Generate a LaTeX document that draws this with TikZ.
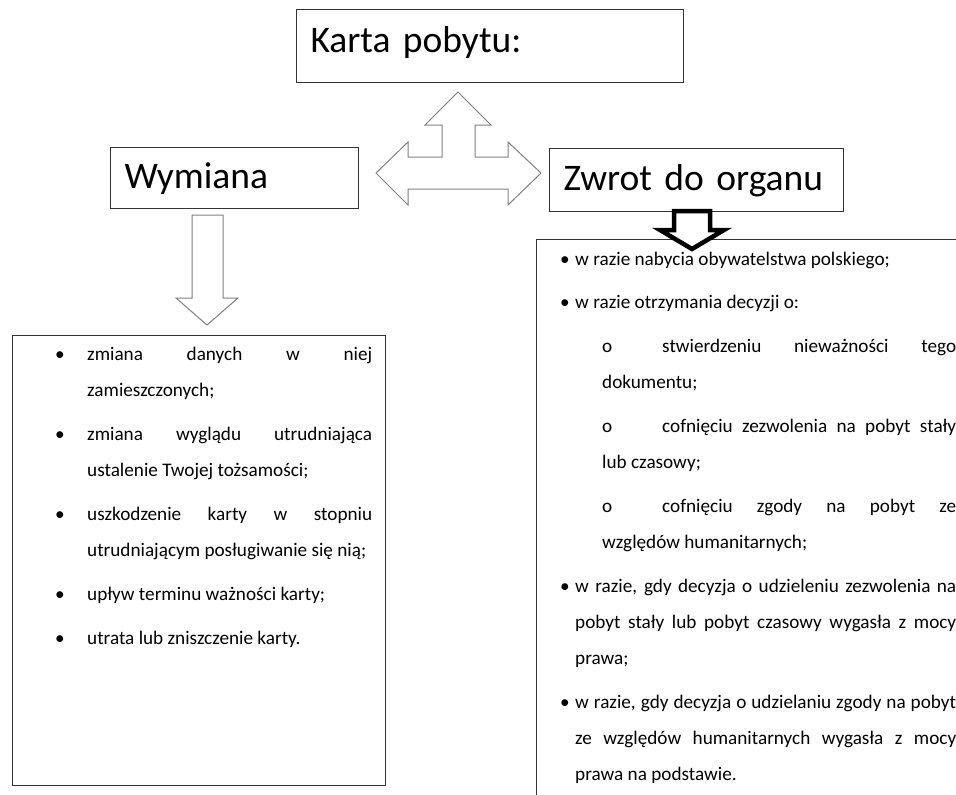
\documentclass[tikz,border=0pt]{standalone}
\usepackage{fontspec}
\setmainfont{Carlito}
\hyphenpenalty=10000
\exhyphenpenalty=10000
\tolerance=10000
\newcommand\lbul[1]{\hangindent=32pt \hangafter=1 \leavevmode\makebox[32pt][l]{\textbullet}#1\par}
\newcommand\rbul[1]{\hangindent=15pt \hangafter=1 \leavevmode\makebox[15pt][l]{\textbullet}#1\par}
\newcommand\subo{\makebox[60pt][l]{o}}
\tikzset{
  headbox/.style={draw=black!80, line width=1pt, anchor=north west, inner sep=0pt,
    inner xsep=14pt, align=left, text height=26pt, text depth=13pt,
    font=\fontsize{37.5}{40}\selectfont},
  listbox/.style={draw=black!80, line width=1pt, anchor=north west, inner sep=0pt},
  item/.style={anchor=base west, inner sep=0pt, align=justify,
    font=\fontsize{19.2}{36}\selectfont},
  blockarrow/.style={draw=gray, line width=1pt, fill=white, line join=miter},
}
\begin{document}
\begin{tikzpicture}[x=1pt,y=-1pt]
  \clip (0,0) rectangle (956,795);
  % headers
  \node[headbox, text width=359pt, minimum height=73pt] (karta) at (296,9) {Karta pobytu:};
  \node[headbox, text width=220pt, minimum height=61pt, text depth=6pt] (wymiana) at (110,147) {Wymiana};
  \node[headbox, text width=266pt, minimum height=63pt, text depth=6pt] (zwrot) at (549,148) {Zwrot do organu};
  % three-way arrow
  \draw[blockarrow] (458,92) -- (491,125) -- (475,125) -- (475,157) -- (508,157)
    -- (508,142) -- (541,173) -- (508,205) -- (508,189) -- (408,189) -- (408,205)
    -- (376,173) -- (408,142) -- (408,157) -- (442,157) -- (442,125) -- (425,125) -- cycle;
  \draw[blockarrow] (192,215) -- (223,215) -- (223,298) -- (238,298) -- (207,325)
    -- (176,298) -- (192,298) -- cycle;
  % list boxes
  \node[listbox, minimum width=373pt, minimum height=450pt] (wymlist) at (12,335) {};
  \node[listbox, minimum width=450pt, minimum height=600pt] (zwrotlist) at (536,239) {};
  \draw[line width=4.5pt, fill=white, line join=miter] (674,211) -- (710,211) -- (710,230)
    -- (724,230) -- (692,249) -- (660,230) -- (674,230) -- cycle;
  % left items
  \node[item, text width=317pt] (w1) at (55,360) {\lbul{zmiana danych w niej\linebreak zamieszczonych;}};
  \node[item, text width=317pt] (w2) at (55,440) {\lbul{zmiana wyglądu utrudniająca\linebreak ustalenie Twojej tożsamości;}};
  \node[item, text width=317pt] (w3) at (55,520) {\lbul{uszkodzenie karty w stopniu\linebreak utrudniającym posługiwanie się nią;}};
  \node[item, text width=317pt] (w4) at (55,600) {\lbul{upływ terminu ważności karty;}};
  \node[item, text width=317pt] (w5) at (55,644) {\lbul{utrata lub zniszczenie karty.}};
  % right items
  \node[item, text width=396pt] (z1) at (560,265) {\rbul{w razie nabycia obywatelstwa polskiego;}};
  \node[item, text width=396pt] (z2) at (560,308) {\rbul{w razie otrzymania decyzji o:}};
  \node[item, text width=354pt] (z3) at (602,352) {\subo stwierdzeniu nieważności tego\linebreak dokumentu;};
  \node[item, text width=354pt] (z4) at (602,432) {\subo cofnięciu zezwolenia na pobyt stały\linebreak lub czasowy;};
  \node[item, text width=354pt] (z5) at (602,512) {\subo cofnięciu zgody na pobyt ze\linebreak względów humanitarnych;};
  \node[item, text width=396pt] (z6) at (560,592) {\rbul{w razie, gdy decyzja o udzieleniu zezwolenia na\linebreak pobyt stały lub pobyt czasowy wygasła z mocy\linebreak prawa;}};
  \node[item, text width=396pt] (z7) at (560,708) {\rbul{w razie, gdy decyzja o udzielaniu zgody na pobyt\linebreak ze względów humanitarnych wygasła z mocy\linebreak prawa na podstawie.}};
\end{tikzpicture}
\end{document}
